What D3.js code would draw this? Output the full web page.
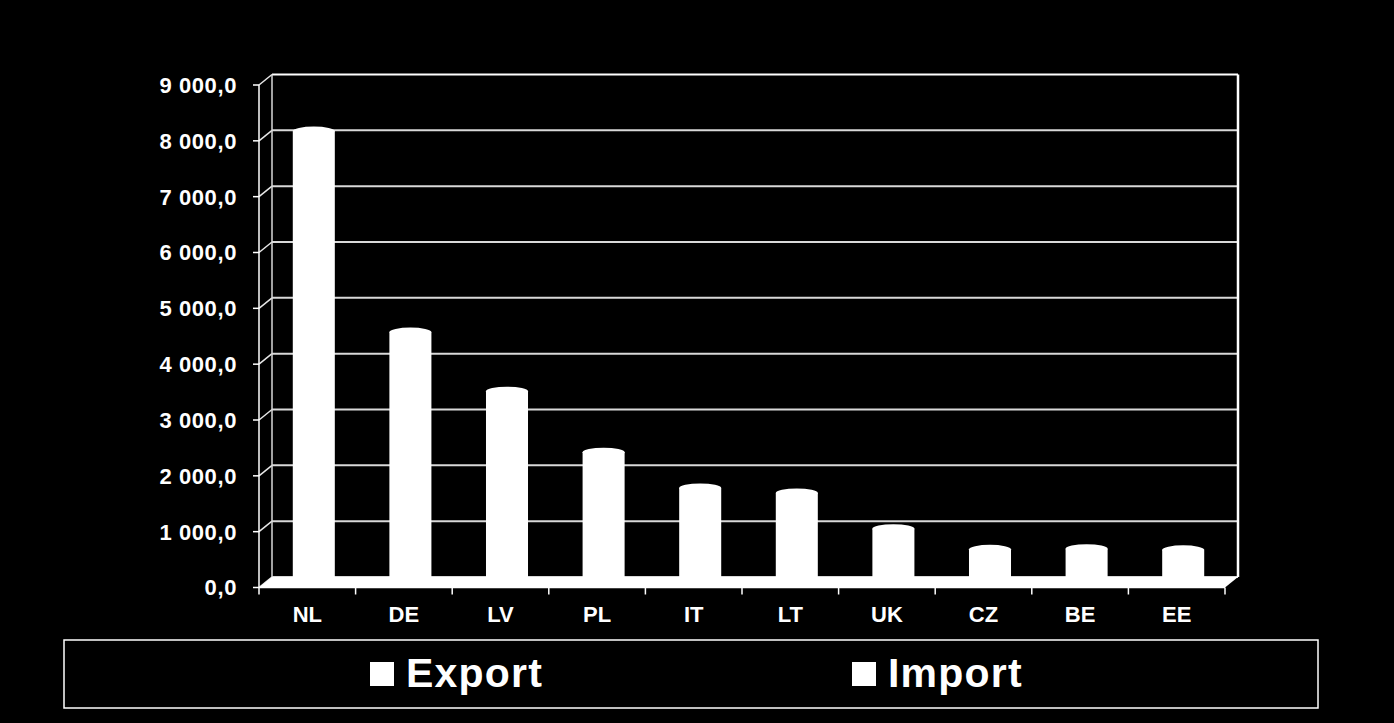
<!DOCTYPE html>
<html><head><meta charset="utf-8">
<script src="https://cdn.jsdelivr.net/npm/d3@7"></script>
<style>html,body{margin:0;padding:0;background:#000;}svg{display:block;}</style>
</head><body>
<script>
const categories = ["NL","DE","LV","PL","IT","LT","UK","CZ","BE","EE"];
const exportValues = [8080, 4480, 3420, 2330, 1690, 1600, 960, 590, 600, 580];
const importValues = [0, 0, 0, 0, 0, 0, 0, 0, 0, 0];
const seriesNames = ["Export", "Import"];
const yTicks = [0,1000,2000,3000,4000,5000,6000,7000,8000,9000];

const W = 1394, H = 723;
const svg = d3.select("body").append("svg").attr("width", W).attr("height", H);
svg.append("rect").attr("width", W).attr("height", H).attr("fill", "#000");

const dx = 13, dy = -10.5;
const x = d3.scaleBand().domain(categories).range([259, 1225]);
const y = d3.scaleLinear().domain([0, 9000]).range([587.5, 85]);
const loc = d3.formatLocale({decimal: ",", thousands: " ", grouping: [3], currency: ["", ""]});
const fmt = loc.format(",.1f");
const font = "'Liberation Sans', Arial, sans-serif";

const g = svg.append("g");
// back wall gridlines
g.selectAll("line.grid").data(yTicks).join("line")
  .attr("x1", 259 + dx).attr("x2", 1225 + dx)
  .attr("y1", d => y(d) + dy).attr("y2", d => y(d) + dy)
  .attr("stroke", d => d === 9000 ? "#fff" : "#d9d9d9").attr("stroke-width", 2);
// side wall diagonals
g.selectAll("line.side").data(yTicks).join("line")
  .attr("x1", 259).attr("x2", 259 + dx)
  .attr("y1", d => y(d)).attr("y2", d => y(d) + dy)
  .attr("stroke", "#e6e6e6").attr("stroke-width", 1.5);
// back-left vertical
g.append("line").attr("x1", 259 + dx).attr("x2", 259 + dx).attr("y1", y(9000) + dy).attr("y2", y(0) + dy)
  .attr("stroke", "#d9d9d9").attr("stroke-width", 1.5);
// right wall
g.append("line").attr("x1", 1225 + dx).attr("x2", 1225 + dx).attr("y1", y(9000) + dy).attr("y2", y(0) + dy)
  .attr("stroke", "#fff").attr("stroke-width", 2.5);
// floor
g.append("path").attr("d", `M259,${y(0)}L1225,${y(0)}L${1225+dx},${y(0)+dy}L${259+dx},${y(0)+dy}Z`)
  .attr("fill", "#fff");
// y axis line
g.append("line").attr("x1", 259).attr("x2", 259).attr("y1", y(9000)).attr("y2", y(0)).attr("stroke", "#fff").attr("stroke-width", 1.5);
// y ticks
g.selectAll("line.yt").data(yTicks).join("line")
  .attr("x1", 253).attr("x2", 259).attr("y1", d => y(d)).attr("y2", d => y(d))
  .attr("stroke", "#fff").attr("stroke-width", 1.5);
g.selectAll("text.yl").data(yTicks).join("text")
  .attr("x", 237).attr("y", d => y(d)).attr("dy", "0.36em")
  .attr("text-anchor", "end").attr("fill", "#fff")
  .attr("font-family", font).attr("font-weight", "bold").attr("font-size", 22)
  .attr("letter-spacing", 0.6)
  .text(d => fmt(d));
// x axis line and ticks
g.append("line").attr("x1", 259).attr("x2", 1225).attr("y1", y(0)).attr("y2", y(0)).attr("stroke", "#fff").attr("stroke-width", 1.5);
const bounds = categories.map(c => x(c)).concat([x.range()[1]]);
g.selectAll("line.xt").data(bounds).join("line")
  .attr("x1", d => d).attr("x2", d => d).attr("y1", y(0)).attr("y2", y(0) + 7)
  .attr("stroke", "#fff").attr("stroke-width", 1.5);
g.selectAll("text.xl").data(categories).join("text")
  .attr("x", d => x(d) + x.bandwidth() / 2).attr("y", 614).attr("dy", "0.36em")
  .attr("text-anchor", "middle").attr("fill", "#fff")
  .attr("font-family", font).attr("font-weight", "bold").attr("font-size", 22)
  .text(d => d);

// bars (cylinders) at mid-depth
const bw = x.bandwidth() * 0.435;
const ry = 4.5;
const bars = g.selectAll("g.bar").data(categories.map((c, i) => ({c, v: exportValues[i]}))).join("g");
bars.append("rect")
  .attr("x", d => x(d.c) + x.bandwidth() / 2 + dx / 2 - bw / 2)
  .attr("width", bw)
  .attr("y", d => y(d.v) + dy / 2)
  .attr("height", d => y(0) + dy - (y(d.v) + dy / 2) + 1)
  .attr("fill", "#fff");
bars.append("ellipse")
  .attr("cx", d => x(d.c) + x.bandwidth() / 2 + dx / 2)
  .attr("cy", d => y(d.v) + dy / 2)
  .attr("rx", bw / 2).attr("ry", ry)
  .attr("fill", "#fff");

// legend
svg.append("rect").attr("x", 64).attr("y", 640).attr("width", 1254).attr("height", 68)
  .attr("fill", "none").attr("stroke", "#fff").attr("stroke-width", 1.5);
const legX = [370, 852];
const leg = svg.selectAll("g.leg").data(seriesNames).join("g")
  .attr("transform", (d, i) => `translate(${legX[i]},0)`);
leg.append("rect").attr("x", 0).attr("y", 662).attr("width", 24).attr("height", 24).attr("fill", "#fff");
leg.append("text").attr("x", 36).attr("y", 687).attr("fill", "#fff")
  .attr("font-family", font).attr("font-weight", "bold").attr("font-size", 41).attr("letter-spacing", 1.2)
  .text(d => d);
</script>
</body></html>
